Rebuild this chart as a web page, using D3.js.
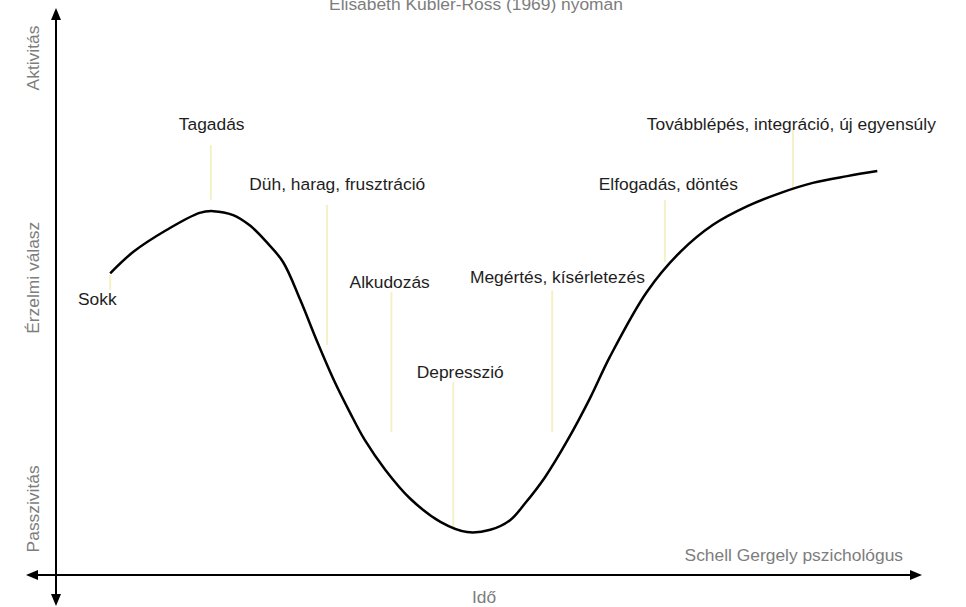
<!DOCTYPE html>
<html>
<head>
<meta charset="utf-8">
<script src="https://cdn.jsdelivr.net/npm/d3@7/dist/d3.min.js"></script>
<style>
    body { margin: 0; background: #fff; }
    #chart { width: 966px; height: 607px; }
    text { font-family: "Liberation Sans", Arial, Helvetica, sans-serif; }
</style>
</head>
<body>
<div id="chart"></div>
<script>

// curve (time 0..100, emotional response 0..100)
var timeValues = [6.3, 9.0, 12.9, 16.7, 18.3, 20.6, 22.6, 24.5, 26.4, 28.4, 30.4, 32.4, 34.2, 35.9,
    38.3, 41.2, 44.7, 47.8, 50.5, 52.8, 54.5, 56.9, 59.5, 62.1, 64.4, 68.7, 72.6, 76.4, 80.4, 84.2,
    88.0, 92.0, 95.5];
var responseValues = [53.4, 57.2, 61.1, 64.1, 64.4, 63.7, 61.8, 58.9, 55.4, 48.7, 41.2, 34.2, 28.7, 23.9,
    18.6, 13.5, 9.4, 7.6, 8.0, 9.7, 12.6, 17.4, 23.9, 31.3, 38.6, 50.1, 57.2, 62.0, 65.3, 67.6,
    69.4, 70.6, 71.5];

// the stages (Kübler-Ross)
var stageNames = ["Sokk", "Tagadás", "Düh, harag, frusztráció", "Alkudozás", "Depresszió",
    "Megértés, kísérletezés", "Elfogadás, döntés", "Továbblépés, integráció, új egyensúly"];
var stageTime = [6.3, 18.0, 31.5, 39.0, 46.2, 57.7, 70.8, 85.7];
var stageLabelTime = [4.8, 18.1, 32.7, 38.8, 47.0, 58.3, 71.2, 85.5];
var stageLabelLevel = [47.8, 78.8, 68.1, 50.8, 34.9, 51.7, 68.1, 78.8];
var guideTop = [53.1, 76.1, 65.5, 50.1, 34.2, 50.4, 66.4, 78.8];
var guideBottom = [50.4, 66.4, 40.7, 25.3, 8.5, 25.3, 55.4, 68.1];

var yAxisLabels = ["Aktivitás", "Érzelmi válasz", "Passzivitás"];
var yAxisLabelLevels = [91.5, 52.6, 11.7];

/*
SVG CANVAS
*/
var width = document.querySelector("#chart").clientWidth;
var height = document.querySelector("#chart").clientHeight;
var svg = d3.select("#chart")
    .append("svg")
    .attr("width", width)
    .attr("height", height);

/*
SCALES
*/
var xScale = d3.scaleLinear().domain([0, 100]).range([56, 916]);
var yScale = d3.scaleLinear().domain([0, 100]).range([575, 10]);

var grey = "#7d7d7d";
var fontSize = 17.4;

/*
TITLE + CREDIT
*/
svg.append("text")
    .attr("x", 476)
    .attr("y", 10)
    .attr("text-anchor", "middle")
    .attr("font-size", fontSize)
    .attr("fill", grey)
    .text("Elisabeth Kübler-Ross (1969) nyomán");

svg.append("text")
    .attr("x", 903)
    .attr("y", 561)
    .attr("text-anchor", "end")
    .attr("font-size", fontSize)
    .attr("fill", grey)
    .text("Schell Gergely pszichológus");

/*
AXES (plain arrows, no ticks)
*/
var axisX = xScale(0);
var axisY = yScale(0);

svg.append("line")
    .attr("x1", axisX).attr("x2", axisX)
    .attr("y1", 18).attr("y2", 598)
    .attr("stroke", "#000")
    .attr("stroke-width", 2);

svg.append("line")
    .attr("x1", 34).attr("x2", 912)
    .attr("y1", axisY).attr("y2", axisY)
    .attr("stroke", "#000")
    .attr("stroke-width", 2);

// arrow heads
var heads = [
    [[axisX, 8], [axisX - 5, 20], [axisX + 5, 20]],
    [[axisX, 606], [axisX - 5, 594], [axisX + 5, 594]],
    [[26, axisY], [38, axisY - 5], [38, axisY + 5]],
    [[922, axisY], [910, axisY - 5], [910, axisY + 5]]
];
svg.selectAll(".head")
    .data(heads)
    .join("path")
    .attr("class", "head")
    .attr("d", function (d) { return "M" + d.join("L") + "Z"; })
    .attr("fill", "#000");

svg.append("text")
    .attr("x", 484)
    .attr("y", 603)
    .attr("text-anchor", "middle")
    .attr("font-size", fontSize)
    .attr("fill", grey)
    .text("Idő");

svg.selectAll(".ylab")
    .data(yAxisLabels)
    .join("text")
    .attr("class", "ylab")
    .attr("transform", function (d, i) {
        return "translate(39," + yScale(yAxisLabelLevels[i]) + ") rotate(-90)";
    })
    .attr("text-anchor", "middle")
    .attr("font-size", fontSize)
    .attr("fill", grey)
    .text(function (d) { return d; });

/*
YELLOW GUIDES + STAGE LABELS
*/
svg.selectAll(".guide")
    .data(stageNames)
    .join("line")
    .attr("class", "guide")
    .attr("x1", function (d, i) { return xScale(stageTime[i]); })
    .attr("x2", function (d, i) { return xScale(stageTime[i]); })
    .attr("y1", function (d, i) { return yScale(guideTop[i]); })
    .attr("y2", function (d, i) { return yScale(guideBottom[i]); })
    .attr("stroke", "#f4f1c6")
    .attr("stroke-width", 2);

svg.selectAll(".stage")
    .data(stageNames)
    .join("text")
    .attr("class", "stage")
    .attr("x", function (d, i) { return xScale(stageLabelTime[i]); })
    .attr("y", function (d, i) { return yScale(stageLabelLevel[i]); })
    .attr("text-anchor", "middle")
    .attr("font-size", fontSize)
    .attr("fill", "#1e1e1e")
    .text(function (d) { return d; });

/*
THE CURVE
*/
var points = timeValues.map(function (t, i) {
    return [t, responseValues[i]];
});

var line = d3.line()
    .x(function (d) { return xScale(d[0]); })
    .y(function (d) { return yScale(d[1]); })
    .curve(d3.curveCatmullRom.alpha(0.5));

svg.append("path")
    .datum(points)
    .attr("d", line)
    .attr("fill", "none")
    .attr("stroke", "#000")
    .attr("stroke-width", 2.5);

</script>
</body>
</html>
